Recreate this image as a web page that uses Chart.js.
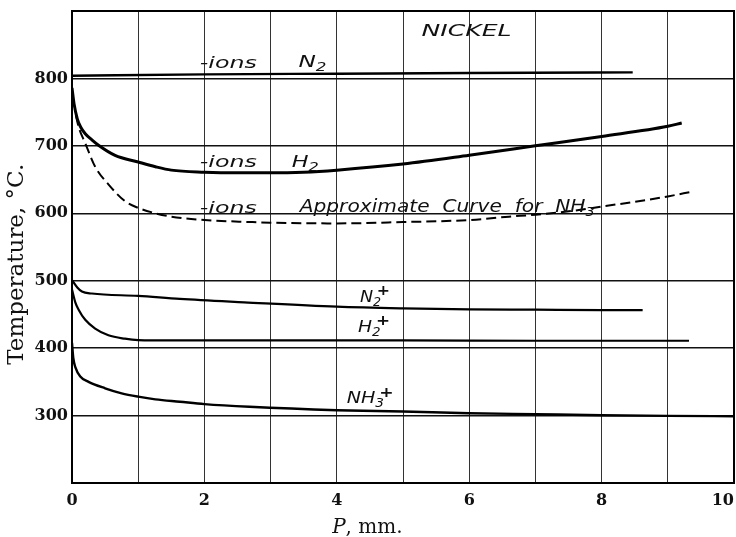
<!DOCTYPE html>
<html>
<head>
<meta charset="utf-8">
<script src="https://cdn.jsdelivr.net/npm/chart.js@4.4.0/dist/chart.umd.min.js"></script>
<style>
html,body{margin:0;padding:0;background:#fff;}
#wrap{width:736px;height:537px;}
</style>
</head>
<body>
<div id="wrap"><canvas id="c" width="736" height="537"></canvas></div>
<script>
// ---- tick labels ----
const pressureTicks = [0, 2, 4, 6, 8, 10];
const temperatureTicks = [300, 400, 500, 600, 700, 800];

// ---- series (P in mm, temperature in °C) ----
const n2IonsP = [0, 2, 4, 6, 8.47];
const n2IonsT = [804, 806, 807, 808, 809];

const h2IonsP = [0, 0.03, 0.08, 0.13, 0.2, 0.3, 0.4, 0.65, 1, 1.26, 1.5, 2, 2.5, 3, 3.5, 4, 5, 6, 7, 8, 9, 9.21];
const h2IonsT = [786, 763, 740, 728, 718, 709, 701, 686, 676, 669, 664, 661, 660, 660, 661, 664, 673, 686, 700, 714, 729, 734];

const nh3IonsP = [0.06, 0.1, 0.2, 0.35, 0.55, 0.8, 1, 1.26, 1.5, 2, 2.7, 3, 4, 5, 6, 6.6, 7, 7.6, 8, 8.5, 9, 9.36];
const nh3IonsT = [745, 728, 704, 669, 643, 618, 608, 600, 595, 590, 587, 586, 585, 587, 590, 595, 598, 604, 610, 617, 625, 632];

const n2PlusP = [0, 0.08, 0.15, 0.3, 1, 1.63, 2.6, 4, 5, 6, 7, 8, 8.62];
const n2PlusT = [501, 490, 484, 481, 477.5, 473, 468, 461.5, 459, 457.5, 457, 456.5, 456.5];

const h2PlusP = [0, 0.05, 0.1, 0.2, 0.35, 0.55, 0.8, 1, 1.5, 3, 5, 7, 9.32];
const h2PlusT = [487, 468, 457, 442, 429, 419, 414, 412, 411.5, 411.5, 411.5, 411, 411];

const nh3PlusP = [0, 0.02, 0.05, 0.125, 0.25, 0.5, 0.75, 1, 1.26, 1.63, 2, 2.68, 4, 5, 6, 7, 8, 9, 10];
const nh3PlusT = [408, 385, 372, 358, 350, 340.5, 333, 328, 324, 320.5, 317, 313, 308, 306, 303.5, 302, 300.5, 299.5, 299];

const pts = (P, T) => P.map((p, i) => ({x: p, y: T[i]}));

// ---- annotations (anchored in data coordinates) ----
const notes = [
  {x: 5.28, y: 863, size: 15, w: 90, parts: [{t: 'NICKEL'}]},
  {x: 1.93, y: 816, size: 16, w: 57, parts: [{t: '-ions'}]},
  {x: 3.42, y: 817, size: 16, w: 28, parts: [{t: 'N'}, {t: '2', sub: true}]},
  {x: 1.93, y: 669, size: 16, w: 57, parts: [{t: '-ions'}]},
  {x: 3.32, y: 669, size: 16, w: 27, parts: [{t: 'H'}, {t: '2', sub: true}]},
  {x: 1.93, y: 601, size: 16, w: 57, parts: [{t: '-ions'}]},
  {x: 3.44, y: 602, size: 17, w: 295, parts: [{t: 'Approximate  Curve  for  NH'}, {t: '3', sub: true}]},
  {x: 4.35, y: 469, size: 16, w: 30, parts: [{t: 'N'}, {t: '2', sub: true, gap: -4}, {t: '+', sup: true}]},
  {x: 4.32, y: 424, size: 16, w: 32, parts: [{t: 'H'}, {t: '2', sub: true, gap: -4}, {t: '+', sup: true}]},
  {x: 4.15, y: 318, size: 16, w: 47, parts: [{t: 'NH'}, {t: '3', sub: true, gap: -4}, {t: '+', sup: true}]}
];

function drawRich(ctx, px, py, parts, size, targetW, family, baseStyle) {
  let w = 0;
  const items = parts.map(p => {
    const fs = p.sub ? size * 0.72 : (p.sup ? size * 0.9 : size);
    const font = (baseStyle || '') + (p.sup ? ' bold ' : ' ') + fs + 'px ' + family;
    ctx.font = font;
    const mw = ctx.measureText(p.t).width;
    const it = {t: p.t, font: font, x: w, dy: p.sub ? size * 0.25 : (p.sup ? -size * 0.42 : 0)};
    w += mw + (p.gap || 0);
    return it;
  });
  const sx = targetW ? targetW / w : 1;
  ctx.save();
  ctx.translate(px, py);
  ctx.scale(sx, 1);
  ctx.textAlign = 'left';
  ctx.textBaseline = 'alphabetic';
  ctx.fillStyle = '#111';
  items.forEach(it => { ctx.font = it.font; ctx.fillText(it.t, it.x, it.dy); });
  ctx.restore();
}

const framePlugin = {
  id: 'frame',
  beforeDatasetsDraw(chart) {
    const {ctx, chartArea: a} = chart;
    ctx.save();
    ctx.strokeStyle = '#000';
    ctx.lineWidth = 2;
    ctx.strokeRect(a.left, a.top, a.right - a.left, a.bottom - a.top);
    ctx.restore();
  },
  afterDatasetsDraw(chart) {
    const {ctx} = chart;
    const xs = chart.scales.x, ys = chart.scales.y;
    notes.forEach(n => {
      drawRich(ctx, xs.getPixelForValue(n.x), ys.getPixelForValue(n.y), n.parts, n.size, n.w, '"DejaVu Sans"', 'italic');
    });
    // x-axis title: "P, mm." with italic P
    const tx = xs.getPixelForValue(3.93);
    const ty = 533;
    ctx.save();
    ctx.fillStyle = '#111';
    ctx.textBaseline = 'alphabetic';
    ctx.textAlign = 'left';
    ctx.font = 'italic 20px "DejaVu Serif"';
    ctx.fillText('P', tx, ty);
    const pw = ctx.measureText('P').width;
    ctx.font = '20px "DejaVu Serif"';
    ctx.fillText(', mm.', tx + pw, ty);
    ctx.restore();
  }
};

const line = (data, width, dash) => ({
  data: data,
  borderColor: '#000',
  borderWidth: width,
  borderDash: dash || [],
  pointRadius: 0,
  fill: false,
  cubicInterpolationMode: 'monotone'
});

new Chart(document.getElementById('c'), {
  type: 'line',
  data: {
    datasets: [
      line(pts(n2IonsP, n2IonsT), 2.4),
      line(pts(h2IonsP, h2IonsT), 3),
      line(pts(nh3IonsP, nh3IonsT), 2, [10, 5]),
      line(pts(n2PlusP, n2PlusT), 2.2),
      line(pts(h2PlusP, h2PlusT), 2.2),
      line(pts(nh3PlusP, nh3PlusT), 2.4)
    ]
  },
  options: {
    responsive: false,
    devicePixelRatio: 1,
    animation: false,
    layout: {padding: {top: 11, right: 2, bottom: 0, left: 0}},
    plugins: {legend: {display: false}, tooltip: {enabled: false}},
    scales: {
      x: {
        type: 'linear',
        min: 0, max: 10,
        border: {display: false},
        grid: {color: '#333', lineWidth: 1, drawTicks: false},
        ticks: {
          stepSize: 1,
          autoSkip: false,
          maxRotation: 0,
          padding: 8,
          color: '#111',
          font: {family: '"DejaVu Serif"', size: 16, weight: 'bold'},
          callback: v => pressureTicks.includes(v) ? (v === 10 ? '10\u2007\u2007' : String(v)) : ''
        },
        afterFit(s) { s.height = 54; s.paddingRight = 0; s.paddingLeft = 0; }
      },
      y: {
        type: 'linear',
        min: 200, max: 900,
        border: {display: false},
        grid: {color: '#111', lineWidth: 1.4, drawTicks: false},
        ticks: {
          stepSize: 100,
          padding: 4,
          color: '#111',
          font: {family: '"DejaVu Serif"', size: 16, weight: 'bold'},
          callback: v => temperatureTicks.includes(v) ? String(v) : ''
        },
        title: {
          display: true,
          text: 'Temperature, °C.\u2003\u2002',
          color: '#111',
          font: {family: '"DejaVu Serif"', size: 23},
          padding: {top: 3, bottom: 0}
        },
        afterFit(s) { s.width = 72; s.paddingTop = 0; s.paddingBottom = 0; }
      }
    }
  },
  plugins: [framePlugin]
});
</script>
</body>
</html>
